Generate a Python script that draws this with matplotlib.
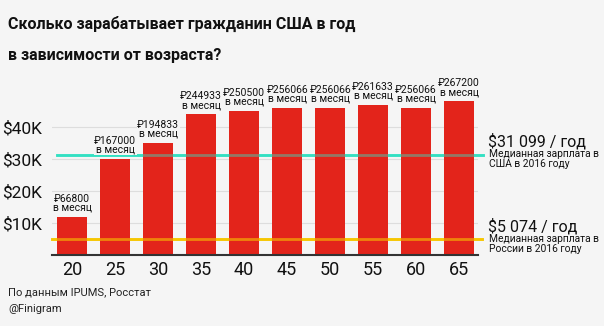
import matplotlib.pyplot as plt
import numpy as np

# данные
ages = ['20', '25', '30', '35', '40', '45', '50', '55', '60', '65']
usd_year = [12000, 30000, 35000, 44000, 45000, 46000, 46000, 47000, 46000, 48000]
rub_month = ['₽66800', '₽167000', '₽194833', '₽244933', '₽250500',
             '₽256066', '₽256066', '₽261633', '₽256066', '₽267200']
us_median = 31099
ru_median = 5074
yticks = [10000, 20000, 30000, 40000]
ytick_labels = ['$10K', '$20K', '$30K', '$40K']

bg = '#f5f5f5'
red = '#e3241b'
teal = '#33e0c3'
yellow = '#f7c600'

plt.rcParams['font.family'] = ['Roboto', 'DejaVu Sans']

W, H = 604, 326
fig = plt.figure(figsize=(W / 100, H / 100), dpi=100, facecolor=bg)
ax = fig.add_axes([52 / W, (H - 255) / H, 426 / W, 160 / H])
ax.set_facecolor(bg)

x = np.arange(len(ages))
ax.bar(x, usd_year, width=0.7, color=red, zorder=2)
ax.set_xlim(-0.47, 9.44)
ax.set_ylim(0, 50000)

# сетка
for v in yticks:
    ax.axhline(v, color='#dddddd', lw=0.8, zorder=1)

# медианы: полный цвет за столбцами + полупрозрачный поверх
ax.plot([-0.35, 9.55], [us_median] * 2, color=teal, lw=2, zorder=1.5, clip_on=False)
ax.plot([-0.35, 9.55], [us_median] * 2, color=teal, lw=2, alpha=0.45, zorder=3, clip_on=False)
ax.plot([-0.47, 9.53], [ru_median] * 2, color=yellow, lw=2, zorder=1.5, clip_on=False)
ax.plot([-0.47, 9.53], [ru_median] * 2, color=yellow, lw=2, alpha=0.6, zorder=3, clip_on=False)

# подписи над столбцами
for xi, v, r in zip(x, usd_year, rub_month):
    ax.annotate(r + '\nв месяц', (xi, v), xytext=(0, 3), textcoords='offset points',
                ha='center', va='bottom', fontsize=7.5, linespacing=0.85, color='#111111',
                zorder=4, annotation_clip=False,
                bbox=dict(boxstyle='square,pad=0.05', fc=bg, ec='none'))

ax.set_yticks(yticks)
ax.set_yticklabels(ytick_labels, fontsize=12.5, color='#111111')
ax.set_xticks(x)
ax.set_xticklabels(ages, fontsize=13, color='#111111')
ax.tick_params(length=0, axis='y', pad=7)
ax.tick_params(length=0, axis='x', pad=4)
for s in ['top', 'right', 'left']:
    ax.spines[s].set_visible(False)
ax.spines['bottom'].set_color('#333333')
ax.spines['bottom'].set_linewidth(1.5)
ax.spines['bottom'].set_zorder(5)

def fy(px):
    return 1 - px / H

fig.text(8 / W, fy(29), 'Сколько зарабатывает гражданин США в год', fontsize=11.5,
         fontweight='bold', color='#111111', va='baseline')
fig.text(8 / W, fy(60), 'в зависимости от возраста?', fontsize=11.5,
         fontweight='bold', color='#111111', va='baseline')

fig.text(488 / W, fy(146), '$31 099 / год', fontsize=11.5, color='#111111', va='baseline')
fig.text(489 / W, fy(157), 'Медианная зарплата в', fontsize=7.4, color='#111111', va='baseline')
fig.text(489 / W, fy(166.5), 'США в 2016 году', fontsize=7.4, color='#111111', va='baseline')
fig.text(488 / W, fy(231), '$5 074 / год', fontsize=11.5, color='#111111', va='baseline')
fig.text(489 / W, fy(242), 'Медианная зарплата в', fontsize=7.4, color='#111111', va='baseline')
fig.text(489 / W, fy(251.5), 'России в 2016 году', fontsize=7.4, color='#111111', va='baseline')

fig.text(8 / W, fy(295), 'По данным IPUMS, Росстат', fontsize=8, color='#222222', va='baseline')
fig.text(8 / W, fy(312), '@Finigram', fontsize=8, color='#222222', va='baseline')

fig.savefig('out.png', dpi=100, facecolor=bg)
